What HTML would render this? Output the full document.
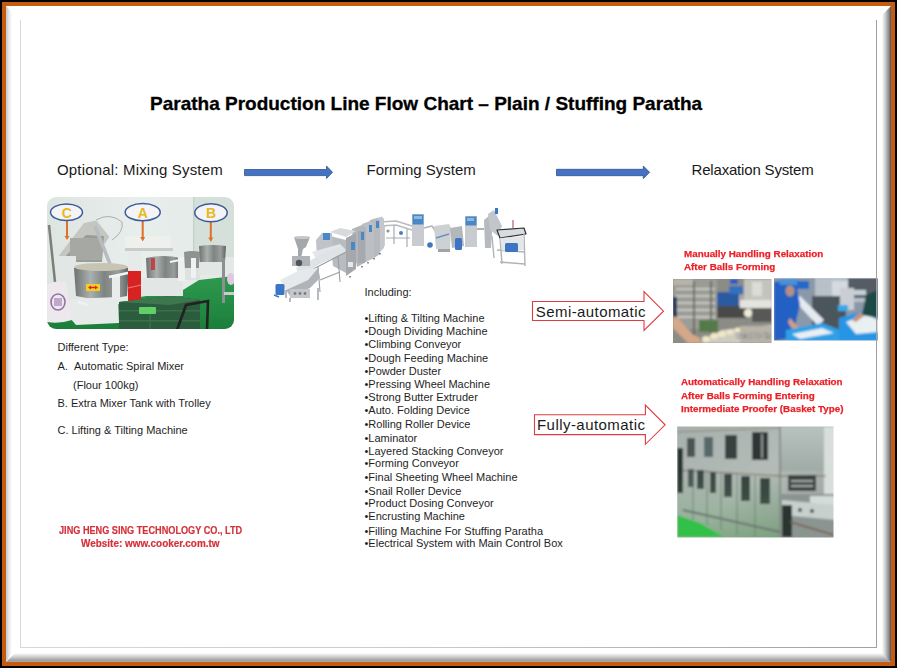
<!DOCTYPE html>
<html><head><meta charset="utf-8">
<style>
*{margin:0;padding:0;box-sizing:border-box}
html,body{width:897px;height:668px;overflow:hidden;background:#000}
body{position:relative;font-family:"Liberation Sans",sans-serif;color:#1c1c1c}
.a{position:absolute}
.t{position:absolute;white-space:nowrap;line-height:1}
#frame{left:2px;top:2px;width:893px;height:664px;background:#c55a11}
#inner{left:6px;top:6px;width:885px;height:656px;background:#fff}
#bl{left:6px;top:6px;width:6px;height:656px;background:linear-gradient(to right,#c2c6ca,#e8e8e8 50%,#fff);clip-path:polygon(0 0,100% 6px,100% calc(100% - 9px),0 100%)}
#br{left:882px;top:6px;width:9px;height:656px;background:linear-gradient(to right,#fff,#c8c8c8 40%,#8a8e90 75%,#4e565c);clip-path:polygon(0 9px,100% 0,100% 100%,0 calc(100% - 9px))}
#bb{left:6px;top:653px;width:885px;height:9px;background:linear-gradient(to bottom,#fff,#d8d8d8 35%,#a8a8a8 75%,#9a9a9a 88%,#aab4bc);clip-path:polygon(9px 0,100% 0,100% 100%,0 100%)}
#gl{left:20px;top:20px;width:1px;height:628px;background:#d8d8d8}
#gr{left:876px;top:20px;width:1px;height:628px;background:#a0a0a0;z-index:5}
#gb{left:20px;top:647px;width:857px;height:1px;background:linear-gradient(to right,#d8d8d8,#c8c8c8 50%,#a0a0a0)}
#title{left:150px;top:94px;font-size:19px;font-weight:bold;color:#000;-webkit-text-stroke:0.3px #000}
.h{font-size:15px;color:#1a1a1a}
.s{font-size:11px;color:#1e1e1e}
.red{color:#d3323a;font-weight:bold}
.lab{color:#ec2028;font-weight:bold;font-size:9.8px;transform:scaleX(1.003);transform-origin:0 0;-webkit-text-stroke:0.25px #ec2028}
</style></head><body>
<div class="a" id="frame"></div>
<div class="a" id="inner"></div>
<div class="a" id="bl"></div>
<div class="a" id="bb"></div>
<div class="a" id="br"></div>
<div class="a" id="gl"></div>
<div class="a" id="gr"></div>
<div class="a" id="gb"></div>

<div class="t" id="title">Paratha Production Line Flow Chart – Plain / Stuffing Paratha</div>

<div class="t h" id="h1" style="left:57px;top:162px;letter-spacing:0.18px">Optional: Mixing System</div>
<div class="t h" id="h2" style="left:366.6px;top:162px">Forming System</div>
<div class="t h" id="h3" style="left:691.5px;top:162px;letter-spacing:-0.18px">Relaxation System</div>

<!-- blue arrows -->
<svg class="a" style="left:0;top:0" width="897" height="668">
  <path d="M244.5 169.5 H326.5 V166 L332.5 172.3 L326.5 178.5 V175.6 H244.5 Z" fill="#4472c4" stroke="#2f528f" stroke-width="0.8"/>
  <path d="M556.5 169.3 H643.3 V166 L649.6 172.3 L643.3 178.6 V175.7 H556.5 Z" fill="#4472c4" stroke="#2f528f" stroke-width="0.8"/>
  <!-- red outline arrows -->
  <path d="M532.5 301.5 H644 V291.7 L663.5 311.2 L644 330.5 V320.5 H532.5 Z" fill="#fff" stroke="#dc3c44" stroke-width="1.1"/>
  <path d="M534.5 414.7 H645.4 V405 L665.1 424.8 L645.4 444.3 V434.6 H534.5 Z" fill="#fff" stroke="#dc3c44" stroke-width="1.1"/>
</svg>

<div class="t h" id="semi" style="left:535.8px;top:304.2px;letter-spacing:0.42px">Semi-automatic</div>
<div class="t h" id="fully" style="left:537px;top:416.5px;letter-spacing:0.45px">Fully-automatic</div>

<div class="t s" id="d1" style="left:57.5px;top:342.3px">Different Type:</div>
<div class="t s" id="d2" style="left:57.5px;top:361px">A.&nbsp;&nbsp;Automatic Spiral Mixer</div>
<div class="t s" id="d3" style="left:73px;top:380px">(Flour 100kg)</div>
<div class="t s" id="d4" style="left:57.5px;top:398px">B. Extra Mixer Tank with Trolley</div>
<div class="t s" id="d5" style="left:57.5px;top:425px">C. Lifting &amp; Tilting Machine</div>

<div class="t s" id="inc" style="left:364.5px;top:287px">Including:</div>
<div id="list">
<div class="t s" style="left:364.5px;top:312.9px">•Lifting &amp; Tilting Machine</div>
<div class="t s" style="left:364.5px;top:325.7px">•Dough Dividing Machine</div>
<div class="t s" style="left:364.5px;top:339.1px">•Climbing Conveyor</div>
<div class="t s" style="left:364.5px;top:352.6px">•Dough Feeding Machine</div>
<div class="t s" style="left:364.5px;top:365.9px">•Powder Duster</div>
<div class="t s" style="left:364.5px;top:379.1px">•Pressing Wheel Machine</div>
<div class="t s" style="left:364.5px;top:392.1px">•Strong Butter Extruder</div>
<div class="t s" style="left:364.5px;top:405.4px">•Auto. Folding Device</div>
<div class="t s" style="left:364.5px;top:418.9px">•Rolling Roller Device</div>
<div class="t s" style="left:364.5px;top:433.0px">•Laminator</div>
<div class="t s" style="left:364.5px;top:446.0px">•Layered Stacking Conveyor</div>
<div class="t s" style="left:364.5px;top:458.4px">•Forming Conveyor</div>
<div class="t s" style="left:364.5px;top:472.0px">•Final Sheeting Wheel Machine</div>
<div class="t s" style="left:364.5px;top:485.5px">•Snail Roller Device</div>
<div class="t s" style="left:364.5px;top:498.0px">•Product Dosing Conveyor</div>
<div class="t s" style="left:364.5px;top:511.1px">•Encrusting Machine</div>
<div class="t s" style="left:364.5px;top:525.8px">•Filling Machine For Stuffing Paratha</div>
<div class="t s" style="left:364.5px;top:538.3px">•Electrical System with Main Control Box</div>
</div>

<div class="t red" id="co1" style="left:58.6px;top:525.5px;font-size:10.2px;-webkit-text-stroke:0.2px #d3323a;transform:scaleX(0.898);transform-origin:0 0">JING HENG SING TECHNOLOGY CO., LTD</div>
<div class="t red" id="co2" style="left:80.5px;top:538.5px;font-size:10.2px;-webkit-text-stroke:0.2px #d3323a;transform:scaleX(0.975);transform-origin:0 0">Website: www.cooker.com.tw</div>

<div class="t lab" id="l1" style="left:684px;top:248.8px">Manually Handling Relaxation</div>
<div class="t lab" id="l2" style="left:684px;top:261.5px">After Balls Forming</div>
<div class="t lab" id="l3" style="left:681.2px;top:377.3px">Automatically Handling Relaxation</div>
<div class="t lab" id="l4" style="left:681.2px;top:390.8px">After Balls Forming Entering</div>
<div class="t lab" id="l5" style="left:681.2px;top:404.3px">Intermediate Proofer (Basket Type)</div>

<!-- photos placeholders -->
<svg class="a" id="p_mix" style="left:0;top:0" width="897" height="668" viewBox="0 0 897 668">
<defs>
 <clipPath id="cmix"><rect x="47" y="197" width="187" height="132" rx="9"/></clipPath>
 <filter id="bl06" x="-5%" y="-5%" width="110%" height="110%"><feGaussianBlur stdDeviation="0.6"/></filter>
 <linearGradient id="wall" x1="0" y1="0" x2="1" y2="0"><stop offset="0" stop-color="#dde5e1"/><stop offset="0.5" stop-color="#e8eeec"/><stop offset="1" stop-color="#e2e9e6"/></linearGradient>
 <linearGradient id="metal" x1="0" y1="0" x2="1" y2="0"><stop offset="0" stop-color="#6e7270"/><stop offset="0.3" stop-color="#aab0ae"/><stop offset="0.55" stop-color="#7e8482"/><stop offset="0.8" stop-color="#9a9e9c"/><stop offset="1" stop-color="#5e6260"/></linearGradient>
 <linearGradient id="floor" x1="0" y1="0" x2="0" y2="1"><stop offset="0" stop-color="#2e9a50"/><stop offset="1" stop-color="#1c7e3a"/></linearGradient>
</defs>
<g clip-path="url(#cmix)" filter="url(#bl06)">
 <rect x="47" y="197" width="187" height="132" fill="url(#wall)"/>
 <rect x="193" y="197" width="41" height="60" fill="#d6e0da"/>
 <rect x="193" y="197" width="1.5" height="60" fill="#c8d2cc"/>
 <!-- floor -->
 <polygon points="47,318 119,304 140,297 183,290 199,280 234,276 234,329 47,329" fill="url(#floor)"/>
 <!-- left pole -->
 <!-- C machine lid & head -->
 <polygon points="54,262 84,223 104,219 110,236 92,262" fill="#c4c6c2"/>
 <polygon points="60,262 86,235 104,236 102,262" fill="#9a9c98"/>
 <rect x="70" y="238" width="32" height="22" fill="#a6a8a4"/>
 <path d="M96 220 Q110 212 122 222 Q124 232 112 240" fill="#e6eaea" stroke="#9ca0a0" stroke-width="0.8"/>
 <line x1="95" y1="226" x2="110" y2="264" stroke="#b8bcc0" stroke-width="3.5"/>
 <rect x="53" y="256" width="23" height="46" fill="#e2e6e4"/>
 <line x1="49" y1="225" x2="55" y2="282" stroke="#7c7e7a" stroke-width="2.5"/>
 <!-- C bowl -->
 <path d="M74 268 Q101 261 129 268 L127 296 Q101 302 76 296 Z" fill="url(#metal)"/>
 <ellipse cx="101" cy="267" rx="27" ry="4" fill="#c8c4b4"/>
 <rect x="86" y="284" width="14" height="7" fill="#f0d020"/>
 <path d="M88 287.5 L91 285.5 V286.8 H95 V285.5 L98 287.5 L95 289.5 V288.2 H91 V289.5 Z" fill="#e02020"/>
 <!-- C base -->
 <polygon points="70,299 118,297 119,323 76,325 70,318" fill="#e6eae8"/>
 <rect x="112" y="276" width="8" height="24" fill="#e8ecea"/>
 <line x1="109" y1="277" x2="137" y2="271" stroke="#f4f6f6" stroke-width="2.4"/>
 <line x1="78" y1="302" x2="88" y2="305" stroke="#f0f2f2" stroke-width="2.5"/>
 <!-- flour bag -->
 <path d="M47 285 Q55 280 66 282 L72 320 Q60 324 47 322 Z" fill="#ece8ec"/>
 <ellipse cx="58" cy="302" rx="7" ry="8" fill="none" stroke="#9870a8" stroke-width="1.6"/>
 <rect x="54" y="298" width="8" height="8" fill="#c0a8cc"/>
 <!-- red bucket -->
 <rect x="128" y="269" width="13" height="33" rx="2" fill="#d82424"/>
 <line x1="128" y1="288" x2="141" y2="285" stroke="#f09090" stroke-width="0.8"/>
 <!-- A machine -->
 <rect x="125" y="236" width="46" height="14" fill="#eef0ee"/>
 <rect x="125" y="248" width="48" height="3" fill="#c8ccca"/>
 <rect x="128" y="251" width="14" height="20" fill="#e6eae8"/>
 <path d="M146 258 Q163 254 181 258 L180 279 Q163 283 147 279 Z" fill="url(#metal)"/>
 <rect x="151" y="258" width="4" height="12" fill="#c83030" opacity="0.8"/>
 <rect x="141" y="278" width="42" height="18" fill="#e2e6e4"/>
 <rect x="178" y="257" width="8" height="24" fill="#eef0ee"/>
 <line x1="170" y1="262" x2="190" y2="258" stroke="#f2f4f4" stroke-width="2"/>
 <!-- middle mixer -->
 <path d="M184 252 Q192 250 200 252 L199 270 Q192 272 185 270 Z" fill="#8e9290"/>
 <rect x="185" y="268" width="15" height="12" fill="#dde2e0"/>
 <rect x="191" y="258" width="5" height="20" fill="#f0f2f2"/>
 <!-- B machine -->
 <path d="M199 246 Q212 244 226 246 L225 262 Q212 264 200 262 Z" fill="url(#metal)"/>
 <rect x="199" y="262" width="25" height="13" fill="#e2e6e4"/>
 <rect x="222" y="258" width="3" height="45" fill="#8c9090"/>
 <ellipse cx="231" cy="279" rx="4" ry="6" fill="#e0c8e0"/>
 <rect x="224" y="292" width="10" height="3" fill="#c8cccc"/>
 <!-- crates -->
 <polygon points="119,302 170,296 200,300 200,329 119,329" fill="#2c5c3c"/>
 <polygon points="119,302 170,296 200,300 170,305" fill="#3e7650"/>
 <rect x="119" y="310" width="81" height="1.5" fill="#3a7048"/>
 <rect x="119" y="320" width="81" height="1.5" fill="#3a7048"/>
 <line x1="150" y1="306" x2="150" y2="329" stroke="#3a7048" stroke-width="1.5"/>
 <rect x="139" y="307" width="17" height="7" rx="1" fill="#60d066"/>
 <!-- trolley handle -->
 <path d="M177 330 L186 305 L208 301 L207 330" fill="none" stroke="#222" stroke-width="2.6"/>
</g>
<!-- ovals and arrows -->
<g>
 <line x1="67" y1="221" x2="67" y2="237" stroke="#e07028" stroke-width="2"/>
 <polygon points="64.5,236 69.5,236 67,240" fill="#e07028"/>
 <line x1="142.7" y1="221" x2="142.7" y2="238" stroke="#e07028" stroke-width="2"/>
 <polygon points="140.2,237 145.2,237 142.7,241.5" fill="#e07028"/>
 <line x1="210.8" y1="222" x2="210.8" y2="238" stroke="#e07028" stroke-width="2"/>
 <polygon points="208.3,237.5 213.3,237.5 210.8,242" fill="#e07028"/>
 <ellipse cx="66.5" cy="212.2" rx="16" ry="8.3" fill="#f4f4f6" stroke="#3c5a9a" stroke-width="1.5"/>
 <ellipse cx="142.7" cy="212.2" rx="17.5" ry="8.6" fill="#f4f4f6" stroke="#3c5a9a" stroke-width="1.5"/>
 <ellipse cx="211" cy="212.8" rx="16.2" ry="9" fill="#f4f4f6" stroke="#3c5a9a" stroke-width="1.5"/>
 <text x="66.8" y="217.5" font-family="Liberation Sans" font-weight="bold" font-size="14" fill="#e8b820" text-anchor="middle">C</text>
 <text x="142.7" y="217.5" font-family="Liberation Sans" font-weight="bold" font-size="14" fill="#e8b820" text-anchor="middle">A</text>
 <text x="211" y="218" font-family="Liberation Sans" font-weight="bold" font-size="14" fill="#e8b820" text-anchor="middle">B</text>
</g>
</svg>
<svg class="a" id="p_form" style="left:0;top:0" width="897" height="668" viewBox="0 0 897 668">
<defs>
 <filter id="bl07" x="-5%" y="-5%" width="110%" height="110%"><feGaussianBlur stdDeviation="0.55"/></filter>
 <linearGradient id="stl" x1="0" y1="0" x2="1" y2="1"><stop offset="0" stop-color="#c4c8ca"/><stop offset="1" stop-color="#9a9ea2"/></linearGradient>
</defs>
<g filter="url(#bl07)" stroke-linejoin="round">
 <!-- bridge conveyor -->
 <path d="M380 222 L396 221 L412 226 M380 226 L396 225 L412 230" stroke="#b8bcc0" stroke-width="1.6" fill="none"/>
 <path d="M384 226 V246 M394 226 V244 M407 229 V247 M386 238 H410" stroke="#a8acb0" stroke-width="1.2" fill="none"/>
 <circle cx="388" cy="231" r="1.6" fill="#90949a"/><circle cx="401" cy="233" r="2" fill="#4a80c0"/>
 <!-- cabinet 1 -->
 <rect x="412" y="214" width="12" height="32" fill="#c8ccd0"/>
 <rect x="412.5" y="214.5" width="11" height="10" fill="#4a88c4"/>
 <rect x="414" y="216" width="8" height="3" fill="#8ab8e0"/>
 <path d="M424 228 L432 226 L436 232" stroke="#b0b4b8" stroke-width="1.5" fill="none"/>
 <circle cx="430" cy="245" r="2.8" fill="#3c78c0"/>
 <!-- middle machine -->
 <polygon points="434,226 449,224 451,228 450,249 436,249" fill="#cdd1d4"/>
 <line x1="436" y1="238" x2="449" y2="234" stroke="#6a90c0" stroke-width="1.4"/>
 <rect x="438" y="249" width="12" height="3" fill="#a0a4a8"/>
 <polygon points="450,228 462,226 464,246 452,248" fill="#b4b8bc"/>
 <rect x="455" y="238" width="7" height="12" rx="1.5" fill="#3c74c4"/>
 <!-- cabinet 2 -->
 <rect x="465" y="216" width="12" height="31" fill="#c8ccd0"/>
 <rect x="465.5" y="216.5" width="11" height="9" fill="#4a88c4"/>
 <rect x="467" y="218" width="7" height="3" fill="#8ab8e0"/>
 <path d="M477 229 H484" stroke="#b0b4b8" stroke-width="2" fill="none"/>
 <!-- right tall machine -->
 <polygon points="484,220 489,216 492,232 491,248 485,248" fill="#b6babe"/>
 <polygon points="488,214 494,210 502,226 498,236 490,230" fill="#c2c6ca"/>
 <rect x="495" y="208" width="3" height="6" fill="#3c74c4"/>
 <polygon points="497,230 524,228 526,234 500,238" fill="#d8dcde" stroke="#2a2e32" stroke-width="1.2"/>
 <path d="M500 238 L502 264 M524 234 L525 266 M497 250 L524 252 M500 262 L525 264 M492 236 L494 258" stroke="#b0b4b8" stroke-width="1.4" fill="none"/>
 <polygon points="500,238 524,236 524,250 502,252" fill="#dde0e2" opacity="0.8"/>
 <rect x="505" y="243" width="13" height="9" rx="1.5" fill="#3c74c4"/>
 <line x1="513" y1="220" x2="513" y2="228" stroke="#a04040" stroke-width="1"/>
 <!-- pressing machine stack -->
 <polygon points="377,218 382,216.5 384,219 384,248 380,252" fill="#c4c8cc"/>
 <polygon points="370,220 377,218 380,221 380,254 374,258 371,240" fill="#b6babe"/>
 <rect x="376" y="221" width="3" height="7" fill="#4a88c8"/>
 <polygon points="362,224 370,221 374,224 374,258 366,262 363,240" fill="#bcc0c4"/>
 <rect x="369" y="225" width="3" height="7" fill="#4a88c8"/>
 <polygon points="352,229 362,225 366,228 366,262 357,267 353,245" fill="#b2b6ba"/>
 <rect x="358" y="231" width="7" height="32" fill="#a6aaae"/>
 <rect x="361" y="232" width="3" height="8" fill="#4a88c8"/>
 <polygon points="330,232 340,228 356,231 346,237" fill="#d6dadd"/>
 <polygon points="330,236 346,240 346,273 333,266" fill="#b8bcc0"/>
 <polygon points="346,238 356,233 356,269 346,276" fill="#a4a8ac"/>
 <rect x="351" y="242" width="4" height="8" fill="#4a88c8"/>
 <rect x="348" y="262" width="5" height="5" fill="#e6e8ea"/>
 <polygon points="316,240 322,233 332,233 333,256 317,259" fill="#c0c4c8"/>
 <rect x="323" y="233" width="7" height="7" fill="#4a88c8"/>
 <polygon points="312,252 340,244 346,250 318,262" fill="#e2e6e8"/>
 <path d="M350 276 v1.5 M362 266 v1.5 M368 262 v1.5 M374 258 v1.5 M380 253 v1.5" stroke="#6a6e72" stroke-width="1.5"/>
 <!-- diagonal conveyor -->
 <polygon points="296,268 326,252 342,246 346,252 320,264 300,276" fill="#dfe3e5"/>
 <path d="M300 276 L346 252 M318 266 L320 292 M338 256 L340 282 M320 280 L340 272" stroke="#9a9ea2" stroke-width="1.1" fill="none"/>
 <!-- hopper -->
 <polygon points="294,237 310,237 306,247 303,249 301,258 298,258 298,249" fill="#a4a8ac"/>
 <ellipse cx="302" cy="237.5" rx="8" ry="1.6" fill="#c4c8cc"/>
 <rect x="292" y="256" width="18" height="10" fill="#b0b4b8"/>
 <circle cx="299" cy="263" r="3.2" fill="#50545a"/>
 <!-- front conveyor -->
 <polygon points="280,280 300,270 318,268 308,280 286,290" fill="#e6e9eb"/>
 <polygon points="286,290 308,280 318,268 320,278 310,288 290,296" fill="#b0b4b8"/>
 <rect x="290" y="289" width="20" height="9" fill="#c4c8cc"/>
 <circle cx="295" cy="293.5" r="1.4" fill="#7a7e82"/><circle cx="300" cy="293.5" r="1.4" fill="#7a7e82"/><circle cx="305" cy="293.5" r="1.4" fill="#7a7e82"/>
 <path d="M290 298 V302 M318 288 V300 M286 290 V298" stroke="#8a8e92" stroke-width="1.2" fill="none"/>
 <rect x="275.5" y="284" width="9" height="11" rx="1.5" fill="#3a74c8"/>
 <path d="M274 295 L279 297" stroke="#3a74c8" stroke-width="1.5"/>
</g>
</svg>
<svg class="a" id="p_m1" style="left:0;top:0" width="897" height="668" viewBox="0 0 897 668">
<defs>
 <clipPath id="cm1"><rect x="673" y="279" width="98.5" height="64"/></clipPath>
 <clipPath id="cm2"><rect x="774" y="278.2" width="103.8" height="62.4"/></clipPath>
 <filter id="bl08" x="-5%" y="-5%" width="110%" height="110%"><feGaussianBlur stdDeviation="0.8"/></filter>
</defs>
<g clip-path="url(#cm1)"><g filter="url(#bl08)">
 <rect x="670" y="276" width="105" height="70" fill="#8c8c86"/>
 <!-- rack left -->
 <rect x="673" y="279" width="44" height="50" fill="#9c9c96"/>
 <rect x="673" y="279" width="20" height="6" fill="#b8b4aa"/>
 <path d="M676 289 H715 M676 296 H715 M676 303 H715 M676 310 H715 M676 317 H715" stroke="#d8d8d2" stroke-width="1.6"/>
 <path d="M694 281 V335 M711 281 V335" stroke="#5a5a56" stroke-width="1.5"/>
 <rect x="673" y="297" width="4" height="24" fill="#20305a"/>
 <!-- green floor -->
 <rect x="699" y="320" width="19" height="12" fill="#557a48"/>
 <!-- blue machine -->
 <rect x="717" y="292" width="22" height="14" fill="#2c5aa0"/>
 <rect x="729" y="286" width="14" height="8" fill="#3070c0"/>
 <rect x="730" y="279" width="8" height="5" fill="#2060c0"/>
 <rect x="739" y="295" width="10" height="14" fill="#a8a8a8"/>
 <rect x="717" y="306" width="30" height="12" fill="#4a4a46"/>
 <!-- right machines -->
 <rect x="744" y="279" width="28" height="21" fill="#c4c4be"/>
 <rect x="752" y="282" width="10" height="14" fill="#dcdcd6"/>
 <rect x="740" y="300" width="32" height="8" fill="#e4e4de"/>
 <rect x="752" y="308" width="20" height="14" fill="#585856"/>
 <circle cx="748" cy="313" r="4" fill="#ecead8"/>
 <!-- conveyor with dough balls -->
 <polygon points="700,343 722,330 772,325 772,343" fill="#d0ccc0"/>
 <ellipse cx="706" cy="339" rx="4" ry="3" fill="#f0e8c8"/>
 <ellipse cx="714" cy="336" rx="4" ry="3" fill="#f0e8c8"/>
 <ellipse cx="722" cy="334" rx="4" ry="3" fill="#f0e8c8"/>
 <ellipse cx="730" cy="332" rx="3.5" ry="2.6" fill="#f0e8c8"/>
 <ellipse cx="738" cy="330" rx="3.5" ry="2.6" fill="#f0e8c8"/>
 <rect x="740" y="326" width="32" height="17" fill="#b8b4a8"/>
 <text x="736.5" y="338" font-family="Liberation Sans" font-weight="bold" font-size="6.8" fill="#d8d8d8" stroke="#3a3a3a" stroke-width="0.7" paint-order="stroke">Bend to the</text>
 <!-- hand -->
 <path d="M673 316 L678 318 L692 334 L700 338 L701 343 L688 343 L673 328 Z" fill="#d4a888"/>
</g></g>
<g clip-path="url(#cm2)"><g filter="url(#bl08)">
 <rect x="772" y="276" width="108" height="68" fill="#8a98a8"/>
 <rect x="815" y="278" width="63" height="24" fill="#b8c0c8"/>
 <rect x="832" y="281" width="16" height="22" fill="#d4dae0"/>
 <rect x="848" y="278" width="30" height="20" fill="#545c64"/>
 <rect x="852" y="290" width="14" height="5" fill="#c8d0d8"/>
 <rect x="812" y="296" width="34" height="36" fill="#4c545c"/>
 <rect x="840" y="288" width="14" height="22" fill="#c8ced4"/>
 <!-- white conveyor -->
 <polygon points="792,298 800,296 824,320 818,326" fill="#e4eaf0"/>
 <!-- worker left -->
 <path d="M774 282 Q785 279 796 282 L800 305 L792 338 L774 341 Z" fill="#2060c4"/>
 <rect x="780" y="279" width="16" height="4" fill="#5a9ad8"/>
 <ellipse cx="790" cy="291" rx="4.5" ry="5.5" fill="#b89080"/>
 <rect x="779" y="279" width="20" height="6" rx="3" fill="#4a90d8"/>
 <rect x="797" y="281" width="12" height="8" fill="#2468c8"/>
 <path d="M790 318 Q800 330 808 336 L802 340 Q792 330 788 322 Z" fill="#d0a080"/>
 <!-- blue crates -->
 <polygon points="786,330 822,323 840,330 840,341 786,341" fill="#2ea0e6"/>
 <polygon points="792,334 822,328 834,333 800,339" fill="#e8f0f4"/>
 <polygon points="839,318 866,310 878,318 878,341 839,341" fill="#2896e4"/>
 <polygon points="846,322 866,314 878,320 878,332 856,334" fill="#e8f0f2"/>
 <rect x="838" y="305" width="10" height="6" fill="#38a8e8"/>
 <!-- right worker -->
 <path d="M878 290 L866 295 L862 315 L878 318 Z" fill="#1c4844"/>
 <path d="M860 312 L852 320 L856 322 L864 316 Z" fill="#c89478"/>
</g></g>
</svg>
<svg class="a" id="p_pr" style="left:0;top:0" width="897" height="668" viewBox="0 0 897 668">
<defs>
 <clipPath id="cpr"><rect x="677.2" y="426.6" width="156.3" height="111"/></clipPath>
 <linearGradient id="ss" x1="0" y1="0" x2="1" y2="1"><stop offset="0" stop-color="#a6b0ac"/><stop offset="0.5" stop-color="#b4bcb8"/><stop offset="1" stop-color="#8e9892"/></linearGradient>
 <linearGradient id="gtint" x1="0" y1="0" x2="0" y2="1"><stop offset="0" stop-color="#5a9a5c" stop-opacity="0"/><stop offset="0.6" stop-color="#5a9a5c" stop-opacity="0.25"/><stop offset="1" stop-color="#4a9a4c" stop-opacity="0.4"/></linearGradient>
 <linearGradient id="ss2" x1="0" y1="0" x2="0" y2="1"><stop offset="0" stop-color="#b8c2bf"/><stop offset="1" stop-color="#a0aaa6"/></linearGradient>
</defs>
<g clip-path="url(#cpr)"><g filter="url(#bl08)">
 <rect x="675" y="424" width="162" height="116" fill="url(#ss)"/>
 <!-- right upper panel -->
 <rect x="780" y="427" width="45" height="44" fill="url(#ss2)"/>
 <rect x="824" y="427" width="12" height="68" fill="#d8dedc"/>
 <!-- horizontal seam -->
 <path d="M677 470 L780 476 H826" stroke="#7a6a5a" stroke-width="1" fill="none"/>
 <path d="M677 432 L780 428" stroke="#8a7a6a" stroke-width="0.8" fill="none"/>
 <path d="M780 427 V537" stroke="#6a7470" stroke-width="1.2"/>
 <!-- upper windows -->
 <rect x="687" y="438" width="8" height="19" fill="#485454"/>
 <rect x="704" y="437" width="9" height="20" fill="#586868"/>
 <rect x="725" y="435" width="12" height="24" fill="#38403f"/>
 <rect x="752" y="432" width="16" height="28" fill="#2e3434"/>
 <rect x="761" y="434" width="2" height="24" fill="#8a9290"/>
 <!-- lower windows -->
 <rect x="688" y="469" width="6" height="18" fill="#485252"/>
 <rect x="697" y="470" width="7" height="19" fill="#3c4646"/>
 <rect x="710" y="472" width="6" height="21" fill="#3c4646"/>
 <rect x="724" y="474" width="8" height="23" fill="#3a4444"/>
 <rect x="741" y="476" width="9" height="25" fill="#343e3e"/>
 <rect x="760" y="478" width="10" height="26" fill="#343e3e"/>
 <!-- door seams -->
 <path d="M693 470 V520 M707 470 V525 M721 472 V530 M737 474 V535 M755 476 V537" stroke="#6e7874" stroke-width="0.9"/>
 <!-- left dark area -->
 <rect x="677" y="448" width="6" height="45" fill="#2c3432"/>
 <!-- right lower slot -->
 <rect x="788" y="475" width="28" height="16" fill="#3a4240"/>
 <rect x="791" y="480" width="22" height="2" fill="#a0a8a6"/>
 <rect x="791" y="485" width="22" height="2" fill="#a0a8a6"/>
 <!-- right bottom conveyor -->
 <rect x="780" y="494" width="56" height="45" fill="#8a9490"/>
 <rect x="810" y="496" width="26" height="10" fill="#d4dcda"/>
 <polygon points="782,500 836,505 836,520 782,515" fill="#c8d0ce"/>
 <rect x="782" y="505" width="10" height="32" fill="#2c3432"/>
 <path d="M790 522 L834 535" stroke="#7a5a4a" stroke-width="1.5"/>
 <circle cx="800" cy="510" r="2" fill="#404848"/><circle cx="812" cy="511" r="2" fill="#404848"/>
 <rect x="677" y="470" width="103" height="68" fill="url(#gtint)"/>
 <!-- bottom rail and floor -->
 <path d="M683 510 L780 532" stroke="#6a7470" stroke-width="2"/>
 <polygon points="677,515 700,523 724,537 677,537" fill="#30c048"/>
</g></g>
</svg>
</body></html>
